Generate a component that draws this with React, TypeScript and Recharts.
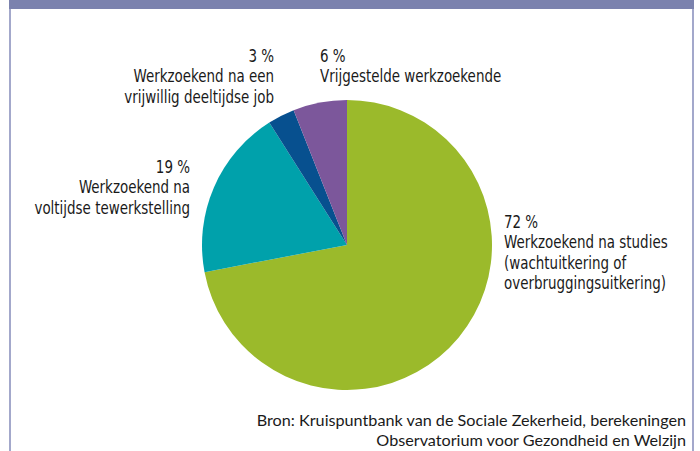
import { PieChart, Pie, Cell } from "recharts";

const categories = [
  "Werkzoekend na studies (wachtuitkering of overbruggingsuitkering)",
  "Werkzoekend na voltijdse tewerkstelling",
  "Werkzoekend na een vrijwillig deeltijdse job",
  "Vrijgestelde werkzoekende",
];
const shares = [72, 19, 3, 6];
const labelLines = [
  ["Werkzoekend na studies", "(wachtuitkering of", "overbruggingsuitkering)"],
  ["Werkzoekend na", "voltijdse tewerkstelling"],
  ["Werkzoekend na een", "vrijwillig deeltijdse job"],
  ["Vrijgestelde werkzoekende"],
];
const sourceLines = [
  "Bron: Kruispuntbank van de Sociale Zekerheid, berekeningen",
  "Observatorium voor Gezondheid en Welzijn",
];

const COLORS = ["#9bba2b", "#00a1ab", "#07508f", "#7c579b"];
// where each label block starts (first baseline) and how it is anchored
const LABEL_POS = [
  { x: 504, y: 228, anchor: "start" },
  { x: 190, y: 173, anchor: "end" },
  { x: 274, y: 62, anchor: "end" },
  { x: 320, y: 62, anchor: "start" },
];

const pieData = categories.map((name, i) => ({ name, value: shares[i] }));

// no narrow font installed, so squeeze the condensed one a bit more
const LABEL_FONT = "'DejaVu Sans Condensed', 'DejaVu Sans', sans-serif";
const SQUEEZE = 0.83;

const renderLabel = (props: any) => {
  const i = props.index;
  const p = LABEL_POS[i];
  const lines = [`${shares[i]} %`, ...labelLines[i]];
  return (
    <g key={`lbl-${i}`} transform={`translate(${p.x} 0) scale(${SQUEEZE} 1) translate(${-p.x} 0)`}>
      <text
        x={p.x}
        y={p.y}
        textAnchor={p.anchor}
        fill="#1a1a1a"
        fontSize={18}
        fontFamily={LABEL_FONT}
      >
        {lines.map((t, j) => (
          <tspan key={j} x={p.x} dy={j === 0 ? 0 : 20.5}>
            {t}
          </tspan>
        ))}
      </text>
    </g>
  );
};

export default function App() {
  return (
    <div
      style={{
        position: "absolute",
        left: 0,
        top: 0,
        width: 700,
        height: 451,
        background: "#ffffff",
        overflow: "hidden",
      }}
    >
      <div style={{ position: "absolute", left: 9, top: 0, width: 685, height: 9, background: "#7b82ae" }} />
      <div style={{ position: "absolute", left: 9, top: 9, width: 2, height: 442, background: "#a3a8cb" }} />
      <div style={{ position: "absolute", left: 692, top: 9, width: 2, height: 442, background: "#a3a8cb" }} />
      <PieChart
        width={700}
        height={451}
        margin={{ top: 0, right: 0, bottom: 0, left: 0 }}
        style={{ position: "absolute", left: 0, top: 0 }}
      >
        <Pie
          data={pieData}
          dataKey="value"
          nameKey="name"
          cx={347}
          cy={245}
          innerRadius={0}
          outerRadius={145}
          startAngle={90}
          endAngle={-270}
          stroke="none"
          label={renderLabel}
          labelLine={false}
          isAnimationActive={false}
        >
          {pieData.map((entry, index) => (
            <Cell key={`cell-${index}`} fill={COLORS[index]} />
          ))}
        </Pie>
      </PieChart>
      <div
        style={{
          position: "absolute",
          right: 14,
          top: 410,
          textAlign: "right",
          fontFamily: "Lato, 'Open Sans', sans-serif",
          fontSize: 16.2,
          lineHeight: "20px",
          color: "#1a1a1a",
        }}
      >
        {sourceLines.map((t) => (
          <div key={t}>{t}</div>
        ))}
      </div>
    </div>
  );
}
